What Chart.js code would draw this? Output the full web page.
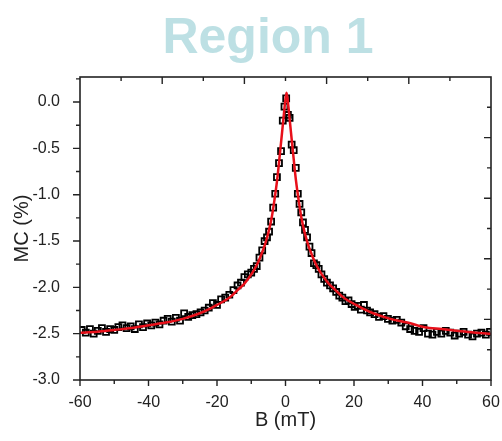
<!DOCTYPE html>
<html>
<head>
<meta charset="utf-8">
<script src="https://cdn.jsdelivr.net/npm/chart.js@4"></script>
<style>
  html, body { margin: 0; padding: 0; background: #fff; }
  #wrap { position: relative; width: 502px; height: 441px; }
</style>
</head>
<body>
<div id="wrap"><canvas id="chart" width="502" height="441"></canvas></div>
<script>
// measured points: field B (mT) and magnetoconductance (%)
const fieldB = [
  -59.5, -58.3, -57.1, -56.0, -54.8, -53.6, -52.4, -51.2, -50.0, -48.8,
  -47.6, -46.4, -45.2, -44.0, -42.8, -41.6, -40.4, -39.2, -38.0, -36.8,
  -35.6, -34.4, -33.2, -32.0, -30.8, -29.6, -28.4, -27.2, -26.0, -24.8,
  -23.6, -22.4, -21.2, -20.0, -18.8, -17.6, -16.4, -15.2, -14.0, -13.0,
  -12.0, -11.0, -10.0, -9.2, -8.4, -7.6, -6.8, -6.1, -5.4, -4.8,
  -4.2, -3.6, -3.0, -2.5, -1.9, -1.3, -0.8, -0.3, 0.2, 0.7,
  1.2, 1.8, 2.4, 3.0, 3.6, 4.1, 4.6, 5.1, 5.7, 6.3,
  7.0, 7.6, 8.3, 9.0, 9.7, 10.5, 11.3, 12.1, 13.0, 13.9,
  14.8, 15.7, 16.6, 17.5, 18.4, 19.3, 20.2, 21.1, 22.0, 22.9,
  23.8, 24.7, 26.0, 27.3, 28.6, 29.9, 31.2, 32.5, 33.8, 35.1,
  36.4, 37.7, 39.0, 40.3, 41.6, 42.9, 44.2, 45.5, 46.8, 48.1,
  49.4, 50.7, 52.0, 53.3, 54.6, 55.9, 57.2, 58.5, 59.7
];
const mcValues = [
  -2.46, -2.49, -2.45, -2.50, -2.47, -2.44, -2.48, -2.45, -2.46, -2.43,
  -2.41, -2.44, -2.42, -2.45, -2.40, -2.43, -2.39, -2.41, -2.38, -2.40,
  -2.36, -2.34, -2.37, -2.33, -2.36, -2.28, -2.32, -2.30, -2.29, -2.27,
  -2.25, -2.22, -2.17, -2.19, -2.13, -2.11, -2.08, -2.03, -1.98, -1.95,
  -1.89, -1.86, -1.84, -1.80, -1.77, -1.68, -1.60, -1.50, -1.46, -1.40,
  -1.29, -1.14, -0.99, -0.81, -0.66, -0.53, -0.20, -0.05, 0.04, -0.14,
  -0.17, -0.46, -0.52, -0.71, -0.99, -1.10, -1.19, -1.30, -1.38, -1.46,
  -1.56, -1.63, -1.74, -1.76, -1.80, -1.86, -1.91, -1.95, -1.98, -2.01,
  -2.05, -2.09, -2.11, -2.15, -2.14, -2.18, -2.21, -2.20, -2.24, -2.19,
  -2.25, -2.27, -2.29, -2.32, -2.31, -2.34, -2.36, -2.35, -2.38, -2.42,
  -2.45, -2.47, -2.48, -2.44, -2.50, -2.51, -2.48, -2.50, -2.47, -2.49,
  -2.52, -2.50, -2.48, -2.51, -2.53, -2.50, -2.49, -2.51, -2.48
];

// fitted curve
const fitB = [
  -60, -55, -50, -45, -40, -35, -30, -25, -22, -20, -18, -16, -14, -12, -10,
  -9, -8, -7, -6, -5, -4, -3.2, -2.5, -1.8, -1.2, -0.6, -0.1, 0.3, 0.7,
  1.2, 1.8, 2.4, 3.1, 3.8, 4.6, 5.6, 6.6, 7.6, 8.6, 9.6, 10.6, 12.6, 14.6,
  16.6, 18.6, 20.6, 22.6, 25.6, 30.6, 35.6, 40.6, 45.6, 50.6, 55.6, 60
];
const fitMC = [
  -2.49, -2.48, -2.46, -2.44, -2.41, -2.38, -2.34, -2.28, -2.23, -2.19, -2.15, -2.10, -2.03, -1.96, -1.86,
  -1.80, -1.73, -1.64, -1.54, -1.41, -1.24, -1.05, -0.86, -0.62, -0.40, -0.18, 0.00, 0.10, 0.00,
  -0.18, -0.40, -0.62, -0.86, -1.05, -1.24, -1.41, -1.54, -1.64, -1.73, -1.80, -1.86, -1.96, -2.03,
  -2.10, -2.15, -2.19, -2.23, -2.28, -2.34, -2.38, -2.43, -2.45, -2.47, -2.49, -2.50
];

const xTicks = [-60, -40, -20, 0, 20, 40, 60];
const yTicks = [0.0, -0.5, -1.0, -1.5, -2.0, -2.5, -3.0];

const FONT = "'Liberation Sans', Arial, sans-serif";
const INK = '#222';

// frame with ticks like the original plot: outward on left/bottom, inward on top/right
const framePlugin = {
  id: 'frame',
  afterDatasetsDraw(chart) {
    const { ctx, chartArea: a, scales } = chart;
    const xs = scales.x, ys = scales.y;
    ctx.save();
    ctx.strokeStyle = INK;
    ctx.lineWidth = 1.6;
    ctx.strokeRect(a.left, a.top, a.right - a.left, a.bottom - a.top);
    ctx.lineWidth = 1.4;
    ctx.beginPath();
    // bottom: major every 20, minor every 10
    for (let v = -60; v <= 60; v += 10) {
      const px = xs.getPixelForValue(v);
      const len = v % 20 === 0 ? 6 : 4;
      ctx.moveTo(px, a.bottom); ctx.lineTo(px, a.bottom + len);
    }
    // left: major every 0.5, minor every 0.25
    for (let k = 0; k <= 13; k++) {
      const v = -3 + k * 0.25;
      if (v > ys.max) break;
      const py = ys.getPixelForValue(v);
      const len = k % 2 === 0 ? 7 : 4;
      ctx.moveTo(a.left, py); ctx.lineTo(a.left - len, py);
    }
    // top and right: ten divisions, alternating lengths
    for (let k = 1; k < 10; k++) {
      const len = k % 2 === 0 ? 7 : 4;
      const px = a.left + k * (a.right - a.left) / 10;
      ctx.moveTo(px, a.top); ctx.lineTo(px, a.top + len);
      const py = a.bottom - k * (a.bottom - a.top) / 10;
      ctx.moveTo(a.right, py); ctx.lineTo(a.right - len, py);
    }
    ctx.stroke();
    ctx.restore();
  }
};

const headingPlugin = {
  id: 'heading',
  afterDraw(chart) {
    const ctx = chart.ctx;
    ctx.save();
    ctx.font = "bold 50px " + FONT;
    ctx.fillStyle = '#bde0e4';
    ctx.textAlign = 'center';
    ctx.textBaseline = 'alphabetic';
    ctx.fillText('Region 1', 268, 53);
    ctx.restore();
  }
};

new Chart(document.getElementById('chart'), {
  type: 'scatter',
  data: {
    datasets: [
      {
        type: 'line',
        label: 'fit',
        data: fitB.map((b, i) => ({ x: b, y: fitMC[i] })),
        borderColor: '#e8101a',
        borderWidth: 2.5,
        pointRadius: 0,
        cubicInterpolationMode: 'monotone',
        fill: false,
        order: 0
      },
      {
        label: 'MC',
        data: fieldB.map((b, i) => ({ x: b, y: mcValues[i] })),
        pointStyle: 'rect',
        pointRadius: 4.2,
        borderColor: '#000',
        borderWidth: 1.8,
        backgroundColor: 'rgba(255,255,255,0)',
        order: 1
      }
    ]
  },
  options: {
    responsive: false,
    animation: false,
    layout: { padding: { top: 77, right: 11, left: 0, bottom: 0 } },
    plugins: {
      legend: { display: false },
      tooltip: { enabled: false }
    },
    scales: {
      x: {
        type: 'linear',
        min: -60, max: 60,
        afterBuildTicks: s => { s.ticks = xTicks.map(v => ({ value: v })); },
        afterFit: s => { s.height = 61; s.paddingLeft = 0; s.paddingRight = 0; },
        grid: { display: false },
        border: { display: false },
        ticks: {
          padding: 5,
          color: INK,
          font: { family: FONT, size: 16 },
          callback: v => String(v)
        },
        title: {
          display: true,
          text: 'B (mT)',
          color: INK,
          font: { family: FONT, size: 20 },
          padding: { top: 0, bottom: 9 }
        }
      },
      y: {
        type: 'linear',
        min: -3.0, max: 0.27,
        afterBuildTicks: s => { s.ticks = yTicks.map(v => ({ value: v })); },
        afterFit: s => { s.width = 80; s.paddingTop = 0; s.paddingBottom = 0; },
        grid: { display: false },
        border: { display: false },
        ticks: {
          padding: 12,
          color: INK,
          font: { family: FONT, size: 16 },
          callback: v => Number(v).toFixed(1)
        },
        title: {
          display: true,
          text: 'MC (%)',
          color: INK,
          font: { family: FONT, size: 20 },
          padding: { top: 10, bottom: 0 }
        }
      }
    }
  },
  plugins: [framePlugin, headingPlugin]
});
</script>
</body>
</html>
